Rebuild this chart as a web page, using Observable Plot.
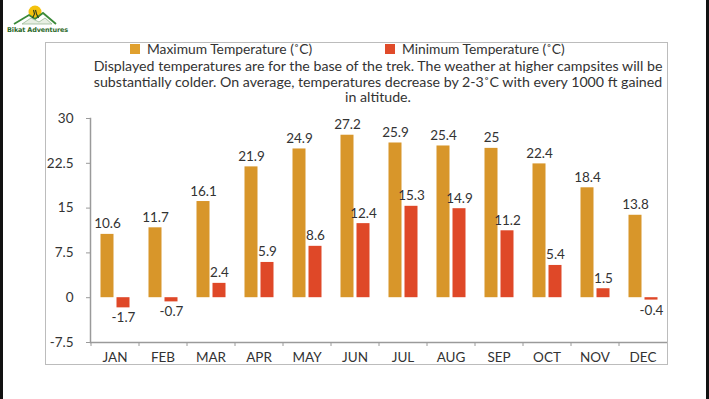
<!DOCTYPE html>
<html><head><meta charset="utf-8">
<script src="https://cdn.jsdelivr.net/npm/d3@7"></script>
<script src="https://cdn.jsdelivr.net/npm/@observablehq/plot@0.6"></script>
<style>
html,body{margin:0;padding:0;background:#fff;}
body{width:709px;height:399px;position:relative;overflow:hidden;font-family:Lato,"Open Sans",sans-serif;color:#333;}
#lstrip{position:absolute;left:0;top:0;width:3px;height:399px;background:#111;}
#rstrip{position:absolute;right:0;top:0;width:3px;height:399px;background:#111;}
#box{position:absolute;left:45px;top:42px;width:623px;height:323px;border:1.5px solid #bcbcbc;box-sizing:border-box;}
#logo{position:absolute;left:8px;top:3px;width:52px;height:24px;}
#logotext{position:absolute;left:7px;top:26px;font:bold 6.5px "DejaVu Sans",sans-serif;color:#2d6a2a;white-space:nowrap;letter-spacing:-0.15px;line-height:8px;}
.leg{position:absolute;top:42px;font-size:13.8px;line-height:14px;white-space:nowrap;}
.sw{display:inline-block;width:10px;height:10px;margin-right:7px;vertical-align:0px;}
#caption{position:absolute;left:68px;top:58px;width:620px;text-align:center;font-size:14.2px;line-height:15.6px;}
#chart{position:absolute;left:0;top:100px;}
</style>
</head><body>
<div id="lstrip"></div><div id="rstrip"></div>
<div id="box"></div>
<svg id="logo" viewBox="0 0 52 24">
  <circle cx="27" cy="9" r="6.5" fill="#f4c20d"/>
  <path d="M6 21 L21 12 L27 16 L35 10 L48 21" fill="none" stroke="#3b8a3a" stroke-width="1.8"/>
  <path d="M14 21 L23 15 L31 19 L37 15 L44 21 Z" fill="#e8efe3" stroke="#8fb38a" stroke-width="0.7"/>
  <path d="M25.5 7 l1 4 l-2 4 M27.5 7 l1 4 l2 4" stroke="#2b3b1f" stroke-width="1.1" fill="none"/>
</svg>
<div id="logotext">Bikat Adventures</div>
<div class="leg" style="left:130px;"><span class="sw" style="background:#E0A02E"></span>Maximum Temperature (˚C)</div>
<div class="leg" style="left:385px;"><span class="sw" style="background:#E04B2A"></span>Minimum Temperature (˚C)</div>
<div id="caption">Displayed temperatures are for the base of the trek. The weather at higher campsites will be<br>substantially colder. On average, temperatures decrease by 2-3˚C with every 1000 ft gained<br>in altitude.</div>
<div id="chart"></div>
<script>
const months = ["JAN","FEB","MAR","APR","MAY","JUN","JUL","AUG","SEP","OCT","NOV","DEC"];
const maxTemp = [10.6, 11.7, 16.1, 21.9, 24.9, 27.2, 25.9, 25.4, 25, 22.4, 18.4, 13.8];
const minTemp = [-1.7, -0.7, 2.4, 5.9, 8.6, 12.4, 15.3, 14.9, 11.2, 5.4, 1.5, -0.4];
const yTicks = [-7.5, 0, 7.5, 15, 22.5, 30];

const rows = months.map((m, i) => ({month: m, max: maxTemp[i], min: minTemp[i]}));
const maxColor = "#D8962A";
const minColor = "#DF4828";
const axisColor = "#9a9a9a";

const chart = Plot.plot({
  width: 709, height: 272,
  marginTop: 18, marginBottom: 30, marginLeft: 90, marginRight: 42,
  style: {fontFamily: "Lato, 'Open Sans', sans-serif", fontSize: "13.5px", color: "#333", background: "transparent", overflow: "visible"},
  x: {domain: months, paddingInner: 0.72, paddingOuter: 0.37, label: null},
  y: {domain: [-7.5, 30], label: null},
  marks: [
    Plot.barY(rows, {x: "month", y: "max", fill: maxColor, dx: -7.5}),
    Plot.barY(rows, {x: "month", y: "min", fill: minColor, dx: 8.5}),
    Plot.text(rows, {x: "month", y: "max", text: d => String(d.max), dx: -7.5, dy: -6, lineAnchor: "bottom", fill: "#333"}),
    Plot.text(rows.filter(d => d.min >= 0), {x: "month", y: "min", text: d => String(d.min), dx: 8.5, dy: -6, lineAnchor: "bottom", fill: "#333"}),
    Plot.text(rows.filter(d => d.min < 0), {x: "month", y: "min", text: d => String(d.min), dx: 8.5, dy: 5, lineAnchor: "top", fill: "#333"}),
    Plot.ruleY([yTicks[0]], {stroke: axisColor, strokeWidth: 1.5}),
    Plot.axisY({ticks: yTicks, tickFormat: d => String(d), tickSize: 4, tickPadding: 13, stroke: axisColor, fill: "#333", label: null}),
    Plot.frame({anchor: "left", stroke: axisColor, strokeWidth: 1.5}),
    Plot.axisX({tickSize: 0, tickPadding: 10, fill: "#333", label: null}),
    Plot.axisX({tickSize: 4, dx: -24, tickFormat: () => "", stroke: axisColor, label: null})
  ]
});
document.getElementById("chart").appendChild(chart);
</script>
</body></html>
